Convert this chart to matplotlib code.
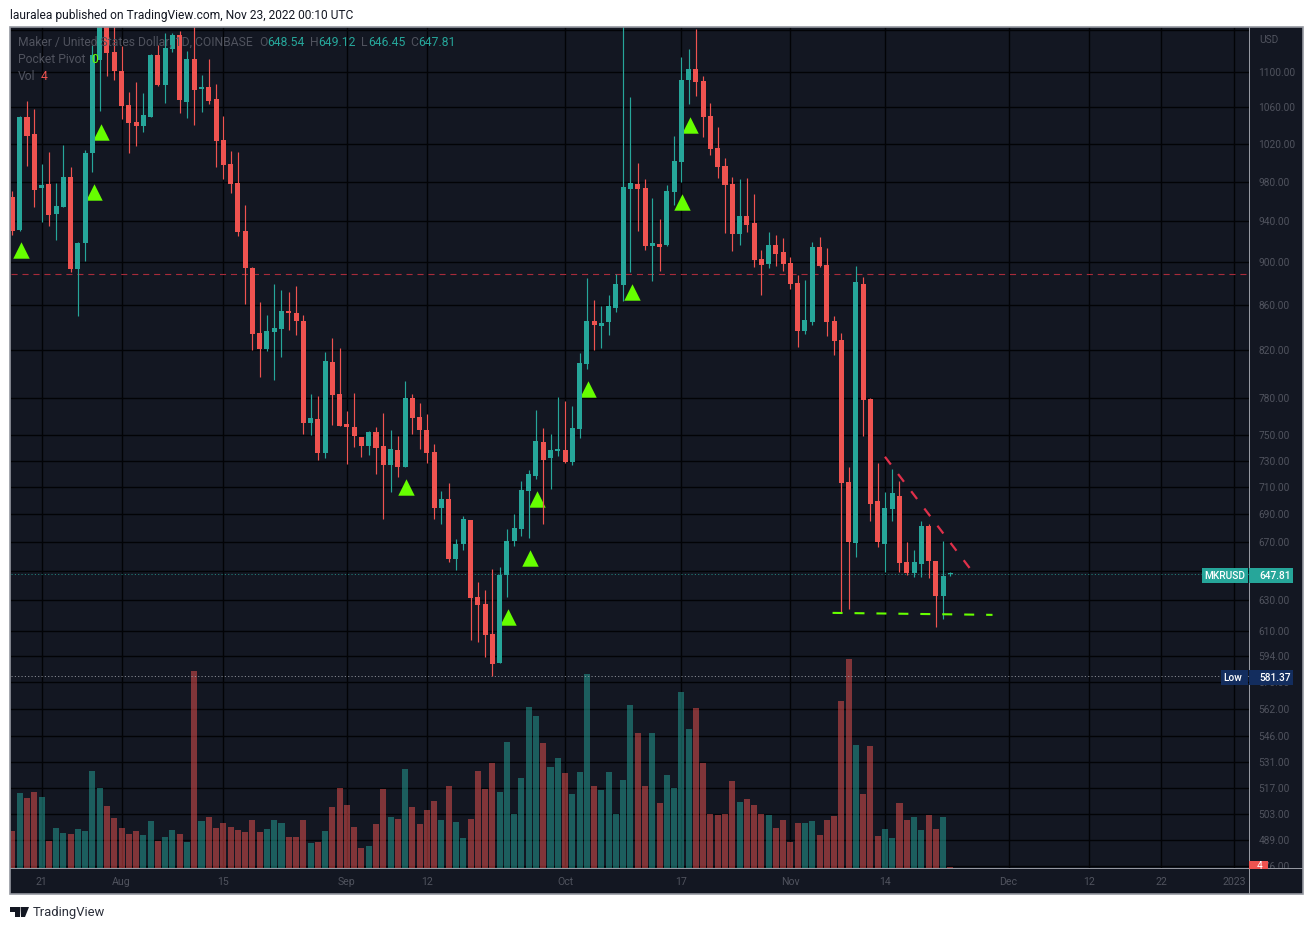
import numpy as np
import pandas as pd
import matplotlib
matplotlib.use('Agg')
import matplotlib.pyplot as plt
import matplotlib.dates as mdates
from matplotlib.patches import Rectangle, Polygon
from matplotlib.ticker import NullLocator
from matplotlib.transforms import Affine2D

# daily MKR/USD candles
first_day = '2022-07-17'
open_ = [964.2, 931.2, 1049, 1030.3, 973.3, 977.5, 947, 954, 984.7, 893.6,
         918.5, 1009.9, 1114, 1160, 1123.4, 1101.1, 1062.4, 1043.5, 1039.1, 1049,
         1119.9, 1085, 1127, 1143.8, 1065.7, 1115.2, 1080.4, 1082.7, 1069.1, 1023.9,
         998.3, 978.5, 930.2, 894.6, 835.4, 821.4, 836.2, 838.9, 855, 853.2,
         846, 759.7, 762.9, 736, 810.2, 783.3, 758.9, 756.5, 748.6, 741.5,
         752.5, 741.5, 726.8, 738.4, 725.3, 780, 764.5, 754.1, 736.8, 694.6,
         701.2, 658.2, 668.7, 685.9, 632.3, 627.6, 608.1, 589.8, 647.2, 670.8,
         679.4, 707.2, 718.4, 744.6, 732.2, 737.6, 738.4, 729.2, 754.9, 808.5,
         846, 841.6, 845.1, 857.7, 878.8, 972.3, 977.5, 973.3, 915.6, 917.6,
         916.6, 969.3, 1000.4, 1090.7, 1103.5, 1089.5, 1050.1, 1015.3, 996.2, 977.5,
         927.3, 945, 938.1, 903.2, 898.3, 916.6, 909.9, 899.3, 880.6, 837.1,
         845.1, 914.7, 897.4, 846, 829.2, 713.9, 669.4, 879.7, 779.2, 699.8,
         668.7, 693.8, 703.5, 656.1, 648.5, 654.8, 681.6, 656.8, 633, 648.54]
high = [970.3, 1050.1, 1066.9, 1057.9, 998.3, 1011, 978.5, 1018.5, 995.1, 919.5,
        1013.1, 1131.8, 1175, 1168, 1156, 1130.6, 1077, 1088.4, 1075.9, 1121,
        1131.8, 1146.2, 1146.2, 1148.6, 1124.6, 1156, 1096.5, 1115.2, 1086.1, 1050.1,
        1012, 1011, 956, 895.5, 863.1, 851.4, 879.7, 874.1, 872.3, 878,
        851.4, 783.3, 781.7, 818.8, 831, 822.2, 769.4, 784.1, 748.6, 753.3,
        756.5, 767.8, 754.1, 749.4, 794.2, 783.3, 775.9, 766.9, 743.1, 707.2,
        713.1, 672.2, 688.8, 685.9, 642.4, 637, 651.3, 652.7, 679.4, 690.2,
        714.6, 723, 770.2, 755.7, 750.9, 780.8, 777.6, 773.5, 817.9, 885.3,
        864.9, 859.5, 869.5, 889, 1156, 1071.4, 999.3, 982.6, 963.1, 942,
        976.4, 1028.2, 1117.5, 1127, 1151, 1095.3, 1064.6, 1038, 1004.6, 984.7,
        982.6, 983.7, 967.2, 911.8, 929.2, 926.3, 923.4, 904.9, 888, 883.4,
        919.5, 924.3, 913.7, 850.5, 835.3, 725.3, 896.5, 886.2, 780, 728.4,
        706.4, 723.8, 714.6, 670.1, 664.5, 685.2, 683, 656.8, 670.8, 649.12]
low = [926.3, 930.5, 996.2, 954, 939.1, 935.1, 921.4, 953.5, 890.8, 850.5,
       901.3, 989.9, 1055.7, 1095.3, 1090.7, 1046.8, 1009.9, 1017.4, 1032.5, 1048.5,
       1083.9, 1064.6, 1123.4, 1053.5, 1047.9, 1040.2, 1054.6, 1063.5, 995.1, 982.6,
       968.2, 925.3, 861.3, 820.5, 797.5, 819.6, 795, 814.5, 838, 833.6,
       750.9, 750.1, 730.7, 732.2, 758.1, 757, 727.6, 740.7, 733, 734.5,
       720, 686.6, 706.4, 717.7, 725, 750.9, 739.2, 728.4, 686.6, 683,
       656.1, 650.6, 664.5, 604.3, 603, 593.6, 581.4, 589.5, 632.3, 667.3,
       674.4, 673, 716.2, 683, 708.6, 733.8, 728.4, 726.8, 747.8, 804.2,
       820.5, 822.2, 833.6, 854.1, 864, 890.8, 930.2, 911.8, 882.5, 891.8,
       916, 956, 979.5, 1063.5, 1072.5, 1027.1, 1007.8, 983.7, 928.3, 910.8,
       916.6, 929.2, 895.5, 869.5, 894.6, 896.5, 891.8, 875, 823.1, 834.5,
       842.5, 895.5, 832.7, 816.2, 621.7, 624.4, 659.6, 749.4, 685.2, 666.6,
       649.2, 685.2, 649.2, 647.2, 645.8, 645.8, 645.2, 612.6, 617.9, 646.45]
close = [930.2, 1049, 1028.2, 971.3, 976.4, 946, 955, 984.7, 893.6, 918.5,
         1009.9, 1119.9, 1160, 1122.2, 1101.1, 1061.3, 1042.4, 1039.1, 1051.2, 1119.9,
         1085, 1128.2, 1143.8, 1068, 1115.2, 1079.3, 1082.7, 1066.9, 1022.8, 997.2,
         977.5, 929.2, 894.6, 834.5, 821.4, 837.1, 839.8, 855, 853.2, 846,
         759.7, 763.7, 736, 811, 782.5, 757.3, 756.5, 749.4, 741.5, 752.5,
         739.9, 726.8, 739.2, 725.3, 780, 763.7, 754.1, 736, 694.6, 701.2,
         658.2, 668.7, 686.6, 631.6, 627, 607.5, 589.2, 647.2, 670.8, 680.1,
         707.9, 720, 745.4, 730.7, 738.4, 739.2, 729.2, 755.7, 809.3, 846,
         842.5, 844.2, 859.5, 879.7, 974.4, 978.5, 972.3, 915.6, 918.5, 914.7,
         970.3, 1001.4, 1090.7, 1103.5, 1088.4, 1049, 1014.2, 995.1, 976.4, 927.3,
         945, 936.1, 902.2, 897.4, 916.6, 908, 898.3, 879.7, 837.1, 846.9,
         914.7, 896.5, 845.1, 828.3, 713.1, 670.1, 881.5, 778.4, 697.5, 670.1,
         694.6, 705.7, 655.4, 648.5, 656.1, 681.6, 656.8, 633, 646.5, 647.81]
volume = [114, 228, 213, 231, 216, 84, 123, 108, 105, 120,
          114, 294, 243, 189, 153, 123, 105, 114, 102, 144,
          84, 96, 117, 105, 81, 594, 144, 156, 123, 138,
          126, 117, 111, 147, 111, 120, 147, 138, 96, 96,
          147, 78, 81, 114, 186, 243, 192, 126, 63, 69,
          135, 240, 156, 150, 300, 186, 135, 177, 204, 147,
          249, 141, 93, 150, 294, 240, 318, 231, 381, 165,
          273, 486, 459, 378, 306, 333, 288, 225, 291, 585,
          249, 237, 291, 165, 267, 492, 408, 249, 408, 198,
          282, 243, 531, 420, 483, 318, 165, 162, 165, 264,
          201, 210, 192, 165, 162, 123, 147, 81, 138, 138,
          144, 102, 147, 159, 504, 630, 372, 225, 369, 99,
          120, 93, 198, 147, 156, 117, 162, 120, 156, 6]

# pocket pivot markers: candle number (from 0) and price
pivot_idx = [1, 11, 12, 54, 68, 71, 72, 79, 85, 92, 93]
pivot_price = [911.3, 968.8, 1033, 709.8, 618.8, 658.5, 700.9, 787, 871.8, 958.6, 1040.7]

price_ticks = [1150, 1100, 1060, 1020, 980, 940, 900, 860, 820, 780, 750, 730, 710, 690,
               670, 650, 630, 610, 594, 578, 562, 546, 531, 517, 503, 489, 476]
hidden_ticks = [1150, 650]  # no label, the USD and last price tags sit there
date_ticks = ['2022-07-21', '2022-08-01', '2022-08-15', '2022-09-01', '2022-09-12', '2022-10-01',
              '2022-10-17', '2022-11-01', '2022-11-14', '2022-12-01', '2022-12-12', '2022-12-22',
              '2023-01-01']
date_labels = ['21', 'Aug', '15', 'Sep', '12', 'Oct', '17', 'Nov', '14', 'Dec', '12', '22', '2023']

level_price = 889
last_price = 647.81
low_price = 581.37
wedge_dates = ['2022-11-14 00:00', '2022-11-25 20:00']
wedge_price = [733, 650.6]
support_dates = ['2022-11-06 19:00', '2022-11-28 19:00']
support_price = [621.7, 620.4]

BG = '#131722'
TEAL = '#26a69a'
RED = '#ef5350'
LIME = '#66ff00'
DIM = '#50535e'
FRAME = '#9598a1'
W, H = 1313, 930

plt.rcParams['font.family'] = ['Roboto', 'DejaVu Sans']
plt.rcParams['lines.scale_dashes'] = False

fig = plt.figure(figsize=(W / 100, H / 100), dpi=100, facecolor='white')
px = Affine2D().scale(1 / W, -1 / H).translate(0, 1) + fig.transFigure


def box(x, y, w, h, color, z=10, **kw):
    fig.add_artist(Rectangle((x, y), w, h, transform=px, facecolor=color, linewidth=0, zorder=z, **kw))


def label(x, y, s, color=DIM, size=8.4, ha='left', z=11, **kw):
    fig.text(x / W, 1 - y / H, s, color=color, fontsize=size, ha=ha, va='center', zorder=z, **kw)


box(10, 27, 1293, 867, BG, z=-1)

# grid + scales live on the bottom axes, volume and candles stacked on top
rect = [11 / W, (H - 868) / H, 1238 / W, 841 / H]
ax_bg = fig.add_axes(rect, zorder=1, facecolor=BG)
ax_vol = fig.add_axes(rect, zorder=2, sharex=ax_bg)
ax = fig.add_axes(rect, zorder=3, sharex=ax_bg)

days = mdates.date2num(pd.date_range(first_day, periods=len(close)))
o, h, l, c = [np.array(a, dtype=float) for a in (open_, high, low, close)]
up = c >= o
candle_up = up.copy()
candle_up[-1] = True  # last bar is coloured against the previous close
candle_col = np.where(candle_up, TEAL, RED)
vol_col = np.where(up, TEAL, RED)

for a in (ax_bg, ax):
    a.set_yscale('log')
    a.set_ylim(475.0, 1153.5)
ax_vol.set_ylim(3, 2526)

ax_bg.set_yticks(price_ticks)
ax_bg.set_yticklabels(['' if p in hidden_ticks else '%.2f' % p for p in price_ticks])
ax_bg.yaxis.set_minor_locator(NullLocator())
ax_bg.yaxis.tick_right()
ax_bg.tick_params(axis='y', length=0, pad=6.8, labelsize=7.3, labelcolor=DIM)
ax_bg.set_xticks(mdates.date2num(pd.to_datetime(date_ticks)))
ax_bg.set_xticklabels(date_labels)
ax_bg.tick_params(axis='x', length=0, pad=6.5, labelsize=7.6, labelcolor=DIM)
ax_bg.grid(True, color='#020306', linewidth=1.0)
ax_bg.set_axisbelow(True)
for s in ax_bg.spines.values():
    s.set_visible(False)

ax_vol.bar(days, volume, width=0.83, color=vol_col, alpha=0.5, linewidth=0)

# markers sit a touch right of their candle
ax.scatter(days[pivot_idx] + 0.15, pivot_price, marker='^', s=140, color=LIME, linewidths=0, zorder=1)
ax.vlines(days, l, h, colors=candle_col, linewidth=0.85, zorder=2)
ax.bar(days, np.maximum(np.abs(c - o), 0.8), bottom=np.minimum(o, c), width=0.69, color=candle_col, linewidth=0, zorder=3)

ax.axhline(level_price, color='#a82b3a', linewidth=0.8, linestyle=(0, (4.4, 3.5)), zorder=1.5)
ax.axhline(last_price, color=TEAL, linewidth=0.7, alpha=0.75, linestyle=(0, (0.8, 1.6)), zorder=1.5)
ax.axhline(low_price, color='#b2b5be', linewidth=0.7, alpha=0.75, linestyle=(0, (0.8, 1.6)), zorder=1.5)
ax.plot(pd.to_datetime(wedge_dates), wedge_price, color='#e0304a', linewidth=1.6, linestyle=(0, (7, 8.6)), zorder=4)
ax.plot(pd.to_datetime(support_dates), support_price, color=LIME, linewidth=1.5, linestyle=(0, (7.2, 8.6)), zorder=4)

ax_vol.axis('off')
ax.axis('off')
ax_bg.set_xlim(mdates.date2num(pd.Timestamp('2022-07-16 19:10')), mdates.date2num(pd.Timestamp('2023-01-03 01:40')))

# frame lines
box(10, 868, 1293, 1, FRAME, z=9)
box(1249, 27, 1, 867, FRAME, z=9)
fig.add_artist(Rectangle((10, 27), 1293, 867, transform=px, fill=False, edgecolor=FRAME, linewidth=1.2, zorder=13))

# header / legend text
label(10, 15, 'lauralea published on TradingView.com, Nov 23, 2022 00:10 UTC', color='#131722', size=8.65)
label(18, 42, 'Maker / United States Dollar, 1D, COINBASE', size=8.7)
for x, k, xv, v in [(259, 'O', 267, '648.54'), (310, 'H', 318, '649.12'), (361, 'L', 368, '646.45'), (410, 'C', 418, '647.81')]:
    label(x, 42, k, size=8.7)
    label(xv, 42, v, color=TEAL, size=8.7)
label(18, 59.5, 'Pocket Pivot', size=8.7)
label(91, 59.5, '0', color=LIME, size=8.7)
label(18, 76.5, 'Vol', size=8.7)
label(41, 76.5, '4', color=RED, size=8.7)

# price scale tags
label(1259, 40, 'USD', size=7.3)
box(1202, 568, 46, 15, TEAL)
box(1249, 568, 44, 15, TEAL)
label(1225, 576, 'MKRUSD', color='white', size=7.3, ha='center', fontweight='medium')
label(1259, 576, '647.81', color='white', size=7.3, fontweight='medium')
box(1221, 670, 27, 15, '#132d5e')
box(1249, 670, 44, 15, '#132d5e')
label(1233, 678, 'Low', color='white', size=7.3, ha='center', fontweight='medium')
label(1259, 678, '581.37', color='white', size=7.3, fontweight='medium')
box(1249, 861, 19, 8, RED)
label(1262, 866, '4', color='white', size=7.3, ha='right')
box(1250, 869, 52, 24, BG, z=12)

# footer logo
for pts in ([(10, 907), (20, 907), (20, 917), (15, 917), (15, 911.5), (10, 911.5)],
            [(20.5, 907), (29, 907), (25, 917), (21, 917)]):
    fig.add_artist(Polygon(pts, closed=True, transform=px, facecolor='#131722', linewidth=0, zorder=11))
label(33, 912, 'TradingView', color='#2a2e39', size=9.4)

fig.savefig('out.png', dpi=100, facecolor='white')
